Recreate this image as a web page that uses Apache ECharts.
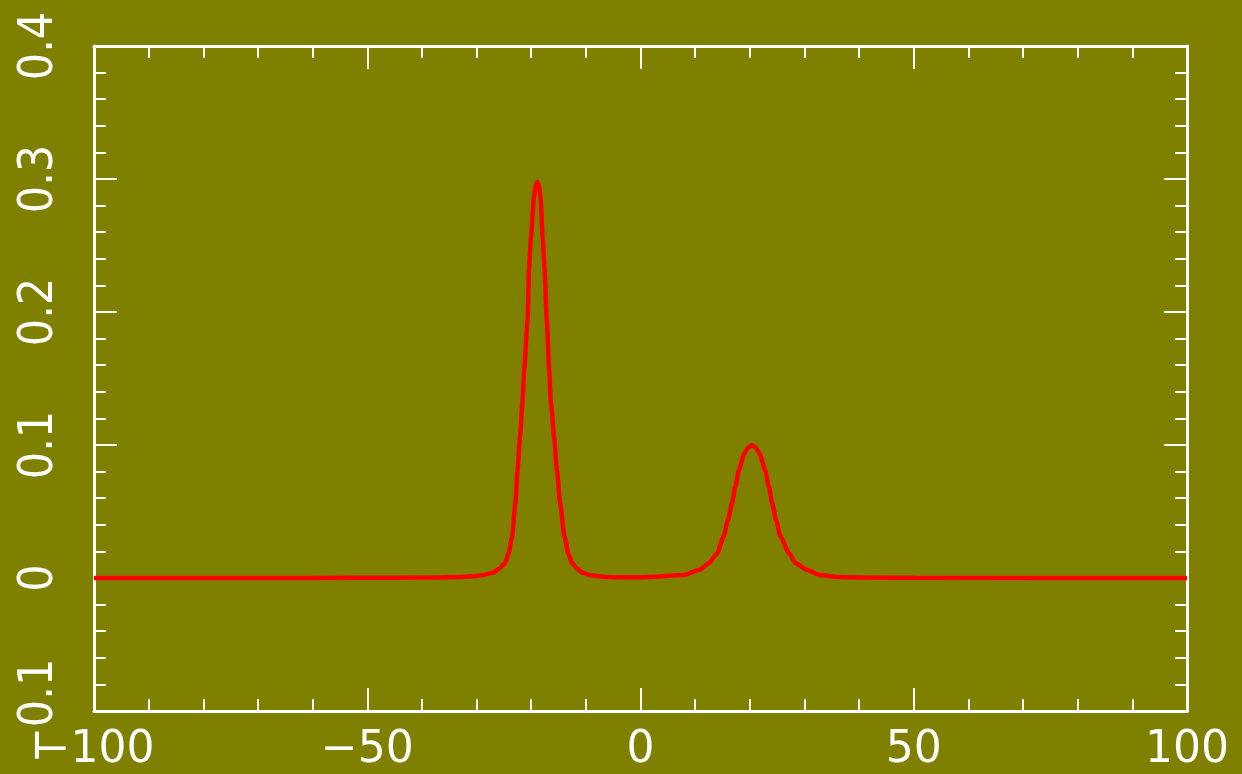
<!DOCTYPE html>
<html>
<head>
<meta charset="utf-8">
<script src="https://cdn.jsdelivr.net/npm/echarts@6/dist/echarts.min.js"></script>
<style>
  html, body { margin: 0; padding: 0; background: #808000; }
  #chart { width: 1242px; height: 774px; }
</style>
</head>
<body>
<div id="chart"></div>
<script>
// x positions of the curve samples
const xValues = [
  -100, -60, -45, -38, -33, -30, -28.5,
  -27.0, -25.9, -24.8, -24.1, -23.5, -22.9, -22.5, -22.05, -21.6, -21.3,
  -20.65, -20.4, -20.05, -19.5, -19.2, -18.9, -18.6, -18.3, -17.9, -17.55,
  -17.15, -16.7, -16.4, -15.8, -15.3, -14.7, -13.9, -13.2, -12.5, -11.6,
  -10.7, -9, -7, -4, 0, 3, 5,
  7.9, 10.7, 12.5, 14.05, 15.2, 16.0, 16.75, 17.35, 18.0, 19.0, 19.7,
  20.4, 21.1, 21.8, 22.8, 23.5, 24.1, 24.8, 25.6, 27.2, 28.4, 30.5, 32.8,
  36, 42, 50, 100
]
// y values of the curve at those positions
const yValues = [
  0, 0, 0.0002, 0.0004, 0.0008, 0.0015, 0.0025,
  0.004, 0.007, 0.011, 0.019, 0.031, 0.056, 0.081, 0.106, 0.132, 0.156,
  0.194, 0.232, 0.256, 0.286, 0.295, 0.298, 0.295, 0.287, 0.256, 0.232,
  0.194, 0.156, 0.132, 0.106, 0.081, 0.056, 0.031, 0.018, 0.011, 0.007,
  0.004, 0.002, 0.001, 0.0005, 0.0006, 0.001, 0.0017,
  0.0023, 0.006, 0.011, 0.0186, 0.031, 0.0436, 0.0561, 0.0687, 0.0812, 0.0937, 0.098,
  0.100, 0.098, 0.0937, 0.0812, 0.0687, 0.0561, 0.0436, 0.031, 0.0186, 0.011, 0.006, 0.0023,
  0.0008, 0.0003, 0.0001, 0
]
const xTicks = { min: -100, max: 100, interval: 50 }
const yTicks = { min: -0.1, max: 0.4, interval: 0.1 }

const fg = '#ffffff'
const minus = v => String(v).replace('-', '\u2212')

const axisCommon = {
  axisLine: { show: true, onZero: false, lineStyle: { color: fg, width: 3 } },
  axisTick: { show: true, inside: true, length: 23, lineStyle: { color: fg, width: 2 } },
  minorTick: { show: true, splitNumber: 5, length: 12, lineStyle: { color: fg, width: 2 } },
  splitLine: { show: false },
  minorSplitLine: { show: false }
}

const chart = echarts.init(document.getElementById('chart'))
chart.setOption({
  backgroundColor: '#808000',
  animation: false,
  grid: { left: 94, right: 55, top: 46, bottom: 63, containLabel: false },
  xAxis: [
    {
      type: 'value', position: 'bottom', ...xTicks, ...axisCommon,
      axisLabel: {
        color: fg, fontSize: 44, fontFamily: 'DejaVu Sans', margin: 18,
        formatter: minus
      }
    },
    {
      type: 'value', position: 'top', ...xTicks, ...axisCommon,
      axisLabel: { show: false }
    }
  ],
  yAxis: [
    {
      type: 'value', position: 'left', ...yTicks, ...axisCommon,
      axisLabel: {
        color: fg, fontSize: 48, fontFamily: "'DejaVu Sans Condensed', 'Liberation Sans'",
        margin: 30, rotate: 90,
        formatter: v => minus(Math.round(v * 10) / 10)
      }
    },
    {
      type: 'value', position: 'right', ...yTicks, ...axisCommon,
      axisLabel: { show: false }
    }
  ],
  series: [
    {
      type: 'line',
      xAxisIndex: 0,
      yAxisIndex: 0,
      data: xValues.map((x, i) => [x, yValues[i]]),
      symbol: 'none',
      smooth: 0.2,
      smoothMonotone: 'x',
      lineStyle: { color: '#ff0000', width: 4.5 }
    }
  ]
})
</script>
</body>
</html>
